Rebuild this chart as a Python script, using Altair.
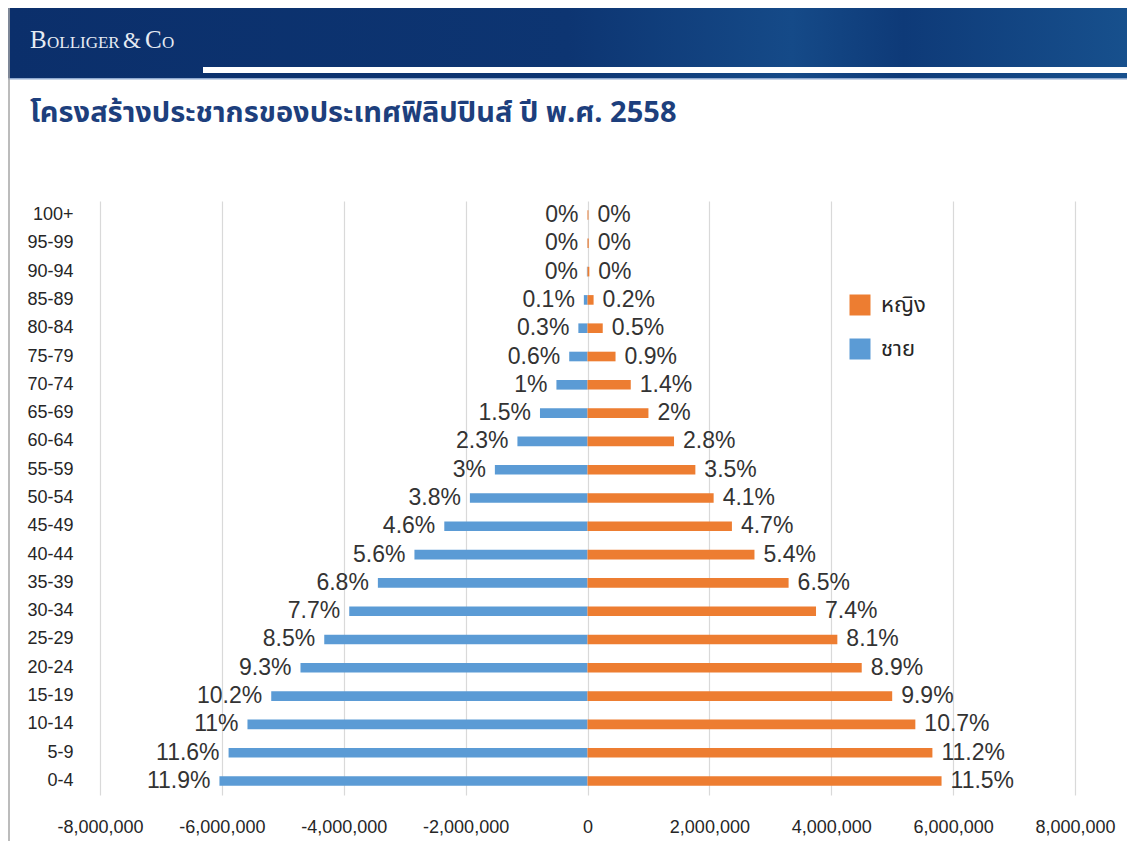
import altair as alt
import pandas as pd

ages = ["0-4", "5-9", "10-14", "15-19", "20-24", "25-29", "30-34", "35-39",
        "40-44", "45-49", "50-54", "55-59", "60-64", "65-69", "70-74", "75-79",
        "80-84", "85-89", "90-94", "95-99", "100+"]
# population in millions
male_m = [6.04, 5.89, 5.58, 5.19, 4.71, 4.32, 3.91, 3.44, 2.84, 2.35, 1.93,
          1.52, 1.15, 0.78, 0.51, 0.30, 0.15, 0.06, 0.01, 0.003, 0.001]
female_m = [5.81, 5.66, 5.38, 5.00, 4.50, 4.10, 3.75, 3.30, 2.74, 2.37, 2.07,
            1.77, 1.42, 1.00, 0.71, 0.46, 0.25, 0.10, 0.03, 0.02, 0.015]
male_pct = ["11.9%", "11.6%", "11%", "10.2%", "9.3%", "8.5%", "7.7%", "6.8%",
            "5.6%", "4.6%", "3.8%", "3%", "2.3%", "1.5%", "1%", "0.6%", "0.3%",
            "0.1%", "0%", "0%", "0%"]
female_pct = ["11.5%", "11.2%", "10.7%", "9.9%", "8.9%", "8.1%", "7.4%", "6.5%",
              "5.4%", "4.7%", "4.1%", "3.5%", "2.8%", "2%", "1.4%", "0.9%", "0.5%",
              "0.2%", "0%", "0%", "0%"]
x_ticks = [-8000000, -6000000, -4000000, -2000000, 0, 2000000, 4000000, 6000000, 8000000]
sexes = ["หญิง", "ชาย"]
colors = ["#ed7d31", "#5b9bd5"]
title_text = "โครงสร้างประชากรของประเทศฟิลิปปินส์ ปี พ.ศ. 2558"

rows = []
for i, a in enumerate(ages):
    rows.append(dict(age=a, sex="ชาย", value=-male_m[i] * 1e6, label=male_pct[i]))
    rows.append(dict(age=a, sex="หญิง", value=female_m[i] * 1e6, label=female_pct[i]))
df = pd.DataFrame(rows)

THAI = "Noto Sans Thai, Tahoma, Liberation Sans, sans-serif"
SANS = "Liberation Sans, Arial, sans-serif"
W, H = 975, 594
order = ages[::-1]

y_enc = alt.Y("age:N", sort=order,
              scale=alt.Scale(paddingInner=0.66, paddingOuter=0.325),
              axis=alt.Axis(title=None, labelFontSize=18, labelFont=SANS, labelPadding=27,
                            ticks=False, domain=False, labelColor="#262626", grid=False))
x_enc = alt.X("value:Q", scale=alt.Scale(domain=[-8e6, 8e6], nice=False, zero=False),
              axis=alt.Axis(title=None, values=x_ticks, grid=True, gridColor="#d9d9d9",
                            gridWidth=1.2, ticks=False, domain=False, labelPadding=23,
                            labelFontSize=18, labelFont=SANS, labelColor="#262626",
                            labelOverlap=False, labelFlush=False,
                            labelExpr="(datum.value < 0 ? '-' : '') + format(abs(datum.value), ',')"))
color_enc = alt.Color("sex:N", scale=alt.Scale(domain=sexes, range=colors),
                      legend=alt.Legend(title=None, orient="none", legendX=749, legendY=93,
                                        symbolType="square", symbolSize=441,
                                        symbolStrokeWidth=0, symbolOpacity=1,
                                        labelFontSize=22, labelFont=THAI, labelColor="#262626",
                                        labelOffset=10, rowPadding=22))

base = alt.Chart(df)
bars = base.mark_bar().encode(x=x_enc, y=y_enc, color=color_enc)
male_lbl = base.transform_filter(alt.datum.sex == "ชาย").mark_text(
    align="right", baseline="middle", dx=-9, fontSize=23, font=SANS, color="#333333"
).encode(x="value:Q", y=alt.Y("age:N", sort=order), text="label:N")
female_lbl = base.transform_filter(alt.datum.sex == "หญิง").mark_text(
    align="left", baseline="middle", dx=9, fontSize=23, font=SANS, color="#333333"
).encode(x="value:Q", y=alt.Y("age:N", sort=order), text="label:N")

one = pd.DataFrame({"k": [0]})
grad = alt.LinearGradient(gradient="linear", x1=0, x2=1, y1=0, y2=0, stops=[
    alt.GradientStop(color="#0b2f6b", offset=0),
    alt.GradientStop(color="#0d3572", offset=0.5),
    alt.GradientStop(color="#154a88", offset=0.7),
    alt.GradientStop(color="#0e3a78", offset=0.8),
    alt.GradientStop(color="#17508d", offset=1)])
header = alt.Chart(one).mark_rect(color=grad).encode(
    x=alt.value(-92), x2=alt.value(1027), y=alt.value(-193), y2=alt.value(-123))
white_bar = alt.Chart(one).mark_rect(color="#ffffff").encode(
    x=alt.value(103), x2=alt.value(1027), y=alt.value(-134), y2=alt.value(-128))
light_line = alt.Chart(one).mark_rect(color="#8fa9cf").encode(
    x=alt.value(-92), x2=alt.value(1027), y=alt.value(-123), y2=alt.value(-121.5))
left_border = alt.Chart(one).mark_rule(color="#a6a6a6", strokeWidth=1.5).encode(
    x=alt.value(-91), y=alt.value(-193), y2=alt.value(640))

logo_parts = [("B", -70, 25), ("OLLIGER", -53, 17), ("&", 23, 23), ("C", 45, 25), ("O", 62, 17)]
logo = []
for t, xx, fs in logo_parts:
    logo.append(alt.Chart(one).mark_text(text=t, align="left", baseline="alphabetic",
                                         font="Liberation Serif", fontSize=fs, color="#e6ebf3")
                .encode(x=alt.value(xx), y=alt.value(-153)))

title = alt.Chart(one).mark_text(text=title_text, align="left", baseline="middle",
                                 font=THAI, fontSize=29, fontWeight="bold",
                                 color="#1d3f7d").encode(x=alt.value(-70), y=alt.value(-88))

chart = alt.layer(header, white_bar, light_line, left_border, *logo, title,
                  bars, male_lbl, female_lbl).properties(
    width=W, height=H, autosize=alt.AutoSizeParams(type="none"),
    padding={"left": 92, "top": 193, "right": 52, "bottom": 46},
    background="#ffffff"
).configure_view(strokeWidth=0)

chart.save("out.html", embed_options={"renderer": "svg", "actions": False})
